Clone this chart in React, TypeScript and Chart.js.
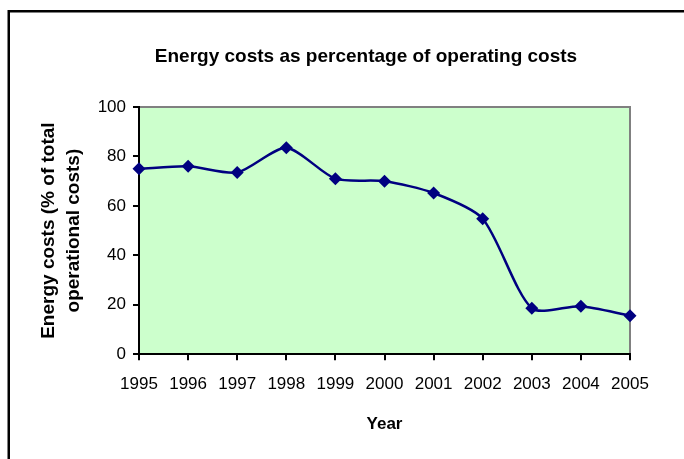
import React, { useEffect, useRef } from "react";
import { Chart, registerables } from "chart.js";

Chart.register(...registerables);

const years = ["1995", "1996", "1997", "1998", "1999", "2000", "2001", "2002", "2003", "2004", "2005"];
const energyShare = [75, 76, 73.5, 83.5, 71, 70, 65.2, 54.8, 18.6, 19.4, 15.6];
const yMin = 0;
const yMax = 100;
const yStep = 20;

const chartTitle = "Energy costs as percentage of operating costs";
const xTitle = "Year";
const yTitle = ["Energy costs (% of total", "operational costs)"];

const FONT = "'Liberation Sans', Arial, sans-serif";

const framePlugin = {
  id: "frameAndPlot",
  beforeDraw(chart: any) {
    const { ctx, chartArea } = chart;
    ctx.save();
    ctx.fillStyle = "#ffffff";
    ctx.fillRect(0, 0, chart.width, chart.height);
    ctx.strokeStyle = "#000000";
    ctx.lineWidth = 2.5;
    ctx.strokeRect(8.75, 11.25, 714.5, 600);
    ctx.fillStyle = "#CCFFCC";
    ctx.fillRect(chartArea.left, chartArea.top, chartArea.right - chartArea.left, chartArea.bottom - chartArea.top);
    ctx.strokeStyle = "#808080";
    ctx.lineWidth = 2;
    ctx.beginPath();
    ctx.moveTo(chartArea.left, chartArea.top);
    ctx.lineTo(chartArea.right, chartArea.top);
    ctx.lineTo(chartArea.right, chartArea.bottom);
    ctx.stroke();
    ctx.restore();
  },
};

export default function App() {
  const ref = useRef<HTMLCanvasElement | null>(null);

  useEffect(() => {
    if (!ref.current) return;
    const chart = new Chart(ref.current, {
      type: "line",
      data: {
        labels: years,
        datasets: [
          {
            data: energyShare,
            borderColor: "#000080",
            backgroundColor: "#000080",
            borderWidth: 2.5,
            pointStyle: "rectRot",
            pointRadius: 6.5,
            pointBorderWidth: 0,
            pointBackgroundColor: "#000080",
            tension: 0.25,
            fill: false,
            clip: false,
          },
        ],
      },
      options: {
        responsive: false,
        animation: false,
        devicePixelRatio: 1,
        layout: { padding: { left: 0, right: 0, top: 12, bottom: 20 } },
        plugins: {
          legend: { display: false },
          tooltip: { enabled: false },
          title: {
            display: true,
            text: chartTitle,
            color: "#000",
            font: { family: FONT, size: 19, weight: "bold" },
            padding: { top: 33.6, bottom: 38.6 },
          },
        },
        scales: {
          x: {
            type: "category",
            offset: false,
            grid: { display: true, drawOnChartArea: false, drawTicks: true, tickLength: 6, color: "#000", lineWidth: 2 },
            border: { display: true, color: "#000", width: 2 },
            ticks: { color: "#000", font: { family: FONT, size: 17 }, padding: 14, maxRotation: 0, autoSkip: false },
            title: {
              display: true,
              text: xTitle,
              color: "#000",
              font: { family: FONT, size: 17, weight: "bold" },
              padding: { top: 6, bottom: 4 },
            },
          },
          y: {
            min: yMin,
            max: yMax,
            grid: { display: true, drawOnChartArea: false, drawTicks: true, tickLength: 6, color: "#000", lineWidth: 2 },
            border: { display: true, color: "#000", width: 2 },
            ticks: { stepSize: yStep, color: "#000", font: { family: FONT, size: 17 }, padding: 7 },
            title: {
              display: true,
              text: yTitle,
              color: "#000",
              font: { family: FONT, size: 19, weight: "bold", lineHeight: "25px" },
              padding: { top: 36, bottom: 10 },
            },
            afterFit: (s: any) => {
              s.width = 139;
            },
          },
          spacer: {
            type: "linear",
            position: "right",
            display: true,
            grid: { display: false, drawTicks: false },
            border: { display: false },
            ticks: { display: false },
            afterFit: (s: any) => {
              s.width = 102;
            },
          },
        },
      },
      plugins: [framePlugin],
    });
    return () => chart.destroy();
  }, []);

  return (
    <div style={{ position: "fixed", left: 0, top: 0, width: 684, height: 459, overflow: "hidden", background: "#fff" }}>
      <canvas ref={ref} width={732} height={459} style={{ display: "block", width: 732, height: 459 }} />
    </div>
  );
}
